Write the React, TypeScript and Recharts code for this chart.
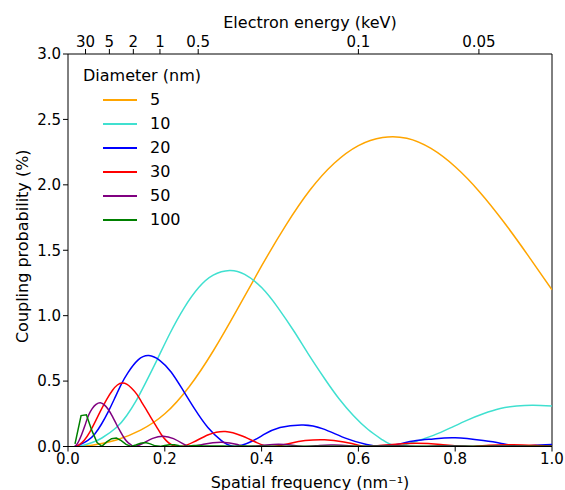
import { LineChart, Line, XAxis, YAxis, ReferenceLine } from "recharts";

// ── Data ─────────────────────────────────────────────────────────────────────

// spatial frequency (nm^-1) and coupling probability (%) per particle diameter
const d5Q = [0.014, 0.05, 0.1, 0.15, 0.2, 0.25, 0.3, 0.35, 0.4, 0.45, 0.5, 0.55, 0.6, 0.65, 0.7, 0.75, 0.8, 0.85, 0.9, 0.95, 1.0];
const d5P = [0, 0.01, 0.05, 0.125, 0.25, 0.455, 0.73, 1.05, 1.38, 1.69, 1.96, 2.165, 2.3, 2.362, 2.356, 2.278, 2.138, 1.948, 1.718, 1.463, 1.198];

const d10Q = [0.014, 0.03, 0.05, 0.07, 0.1, 0.121, 0.14, 0.16, 0.183, 0.21, 0.24, 0.27, 0.3, 0.334, 0.365, 0.4, 0.434, 0.468, 0.496, 0.53, 0.56, 0.59, 0.62, 0.65, 0.679, 0.72, 0.755, 0.789, 0.824, 0.858, 0.893, 0.927, 0.961, 1.0];
const d10P = [0, 0.008, 0.03, 0.065, 0.145, 0.235, 0.345, 0.485, 0.655, 0.86, 1.06, 1.215, 1.31, 1.345, 1.315, 1.215, 1.06, 0.875, 0.71, 0.52, 0.365, 0.235, 0.13, 0.05, 0.005, 0.04, 0.085, 0.14, 0.2, 0.25, 0.29, 0.31, 0.316, 0.31];

const d20Q = [0.014, 0.025, 0.041, 0.055, 0.069, 0.083, 0.096, 0.11, 0.124, 0.145, 0.167, 0.19, 0.213, 0.236, 0.262, 0.289, 0.317, 0.345, 0.38, 0.404, 0.438, 0.486, 0.527, 0.576, 0.617, 0.65, 0.685, 0.72, 0.755, 0.8, 0.858, 0.893, 0.927, 0.96, 1.0];
const d20P = [0, 0.014, 0.047, 0.094, 0.17, 0.265, 0.365, 0.475, 0.565, 0.662, 0.695, 0.657, 0.57, 0.44, 0.285, 0.145, 0.045, 0, 0.04, 0.09, 0.145, 0.165, 0.135, 0.06, 0.015, 0, 0.02, 0.045, 0.058, 0.066, 0.045, 0.025, 0.004, 0.008, 0.015];

const d30Q = [0.014, 0.022, 0.034, 0.045, 0.055, 0.067, 0.08, 0.092, 0.102, 0.112, 0.122, 0.131, 0.142, 0.152, 0.162, 0.172, 0.183, 0.193, 0.203, 0.213, 0.223, 0.235, 0.26, 0.29, 0.325, 0.36, 0.39, 0.42, 0.46, 0.49, 0.53, 0.57, 0.6, 0.62, 0.67, 0.72, 0.77, 0.82, 0.87, 0.92, 0.97, 1.0];
const d30P = [0, 0.01, 0.05, 0.11, 0.18, 0.27, 0.36, 0.43, 0.47, 0.485, 0.475, 0.447, 0.4, 0.34, 0.28, 0.216, 0.15, 0.09, 0.045, 0.015, 0.003, 0, 0.035, 0.09, 0.115, 0.08, 0.03, 0, 0.025, 0.045, 0.051, 0.035, 0.01, 0, 0.015, 0.025, 0.015, 0, 0.01, 0.014, 0.008, 0.004];

const d50Q = [0.014, 0.02, 0.028, 0.035, 0.042, 0.05, 0.058, 0.067, 0.075, 0.083, 0.092, 0.1, 0.108, 0.116, 0.124, 0.132, 0.138, 0.155, 0.175, 0.197, 0.218, 0.238, 0.254, 0.28, 0.318, 0.35, 0.372, 0.41, 0.435, 0.46, 0.49, 0.52, 0.55, 0.58, 0.608, 0.64, 0.67, 0.7, 0.726, 0.76, 0.79, 0.82, 0.845, 0.88, 0.91, 0.94, 0.963, 1.0];
const d50P = [0, 0.025, 0.09, 0.16, 0.235, 0.29, 0.322, 0.334, 0.318, 0.285, 0.228, 0.17, 0.115, 0.065, 0.03, 0.008, 0, 0.025, 0.062, 0.079, 0.06, 0.02, 0, 0.018, 0.033, 0.015, 0, 0.012, 0.018, 0.012, 0, 0.008, 0.011, 0.006, 0, 0.005, 0.007, 0.004, 0, 0.004, 0.005, 0.003, 0, 0.003, 0.004, 0.002, 0, 0.002];

const d100Q = [0.0145, 0.027, 0.038, 0.049, 0.06, 0.07, 0.08, 0.09, 0.1, 0.11, 0.12, 0.13, 0.14, 0.15, 0.16, 0.17, 0.18, 0.19, 0.2, 0.21, 0.22, 0.23, 0.24, 0.25, 0.26, 0.27, 0.28, 0.3, 0.32, 0.34, 0.36, 0.4, 0.5, 0.6, 0.7, 0.8, 0.9, 1.0];
const d100P = [0.02, 0.236, 0.242, 0.125, 0.03, 0.002, 0.035, 0.06, 0.064, 0.045, 0.016, 0.001, 0.012, 0.025, 0.03, 0.02, 0.005, 0.001, 0.008, 0.014, 0.013, 0.006, 0.001, 0.003, 0.007, 0.007, 0.003, 0.004, 0.004, 0.002, 0.003, 0.002, 0.001, 0.001, 0.001, 0.001, 0.001, 0.001];

const freqTicks = [0, 0.2, 0.4, 0.6, 0.8, 1.0];
const probTicks = [0, 0.5, 1.0, 1.5, 2.0, 2.5, 3.0];

// top axis: electron energy (keV) at the matching spatial frequency
const energyTickPos = [0.0362, 0.0855, 0.135, 0.19, 0.269, 0.6, 0.849];
const energyTickLabels = ["30", "5", "2", "1", "0.5", "0.1", "0.05"];

const SERIES = [
  { name: "5", color: "#ffa500", q: d5Q, p: d5P, curve: "natural" },
  { name: "10", color: "#40e0d0", q: d10Q, p: d10P, curve: "natural" },
  { name: "20", color: "#0000ff", q: d20Q, p: d20P, curve: "natural" },
  { name: "30", color: "#ff0000", q: d30Q, p: d30P, curve: "natural" },
  { name: "50", color: "#800080", q: d50Q, p: d50P, curve: "natural" },
  { name: "100", color: "#008000", q: d100Q, p: d100P, curve: "linear" },
] as const;

// ── Styling ───────────────────────────────────────────────────────────────────

const FONT = "'DejaVu Sans', sans-serif";
const INK = "#000";
const tickStyle = { fontSize: 15, fill: INK, fontFamily: FONT };

const toPoints = (qs: readonly number[], ps: readonly number[]) =>
  qs.map((q, i) => ({ q, p: ps[i] }));

function YTitle(props: any) {
  const vb = props.viewBox || { y: 54, height: 392.5 };
  const cx = 22;
  const cy = vb.y + vb.height / 2 - 4;
  return (
    <text
      x={cx}
      y={cy}
      transform={`rotate(-90 ${cx} ${cy})`}
      textAnchor="middle"
      dominantBaseline="central"
      fontSize={16}
      fontFamily={FONT}
      fill={INK}
    >
      Coupling probability (%)
    </text>
  );
}

function LegendBox() {
  return (
    <div
      style={{
        position: "absolute",
        left: 83,
        top: 64,
        fontFamily: FONT,
        fontSize: 16,
        lineHeight: "24px",
        color: INK,
        pointerEvents: "none",
      }}
    >
      <div>Diameter (nm)</div>
      {SERIES.map((s) => (
        <div key={s.name} style={{ display: "flex", alignItems: "center", height: 24 }}>
          <div
            style={{
              marginLeft: 20,
              width: 34,
              height: 1.5,
              background: s.color,
            }}
          />
          <span style={{ marginLeft: 13 }}>{s.name}</span>
        </div>
      ))}
    </div>
  );
}

export default function App() {
  return (
    <div style={{ position: "absolute", left: 0, top: 0, width: 565, height: 490, background: "#fff" }}>
      <LineChart width={565} height={490} margin={{ top: 0, right: 13, bottom: 13.5, left: 0 }}>
        <XAxis
          xAxisId="bottom"
          dataKey="q"
          type="number"
          domain={[0, 1]}
          allowDataOverflow
          ticks={freqTicks}
          interval={0}
          tickFormatter={(v: number) => v.toFixed(1)}
          height={30}
          tickSize={5}
          tick={tickStyle}
          stroke={INK}
          label={{
            value: "Spatial frequency (nm\u207B\u00B9)",
            position: "bottom",
            offset: 0,
            fontSize: 16,
            fontFamily: FONT,
            fill: INK,
          }}
        />
        <XAxis
          xAxisId="top"
          orientation="top"
          dataKey="q"
          type="number"
          domain={[0, 1]}
          allowDataOverflow
          ticks={energyTickPos}
          interval={0}
          tickFormatter={(_v: number, i: number) => energyTickLabels[i]}
          height={54}
          tickSize={5}
          tick={tickStyle}
          stroke={INK}
          label={{
            value: "Electron energy (keV)",
            position: "insideTop",
            offset: 17,
            fontSize: 16,
            fontFamily: FONT,
            fill: INK,
          }}
        />
        <YAxis
          yAxisId="left"
          type="number"
          domain={[0, 3]}
          allowDataOverflow
          ticks={probTicks}
          interval={0}
          tickFormatter={(v: number) => v.toFixed(1)}
          width={68}
          tickSize={5}
          tick={tickStyle}
          stroke={INK}
          label={{ content: YTitle }}
        />
        <ReferenceLine xAxisId="bottom" yAxisId="left" x={1} stroke={INK} strokeWidth={1} />
        {/* invisible carrier so the top energy axis gets its scale */}
        <Line
          xAxisId="top"
          yAxisId="left"
          data={toPoints(d5Q, d5P)}
          dataKey="p"
          stroke="none"
          dot={false}
          activeDot={false}
          legendType="none"
          isAnimationActive={false}
        />
        {SERIES.map((s) => (
          <Line
            key={s.name}
            xAxisId="bottom"
            yAxisId="left"
            data={toPoints(s.q, s.p)}
            dataKey="p"
            name={s.name}
            type={s.curve}
            stroke={s.color}
            strokeWidth={1.5}
            dot={false}
            isAnimationActive={false}
          />
        ))}
      </LineChart>
      <LegendBox />
    </div>
  );
}
